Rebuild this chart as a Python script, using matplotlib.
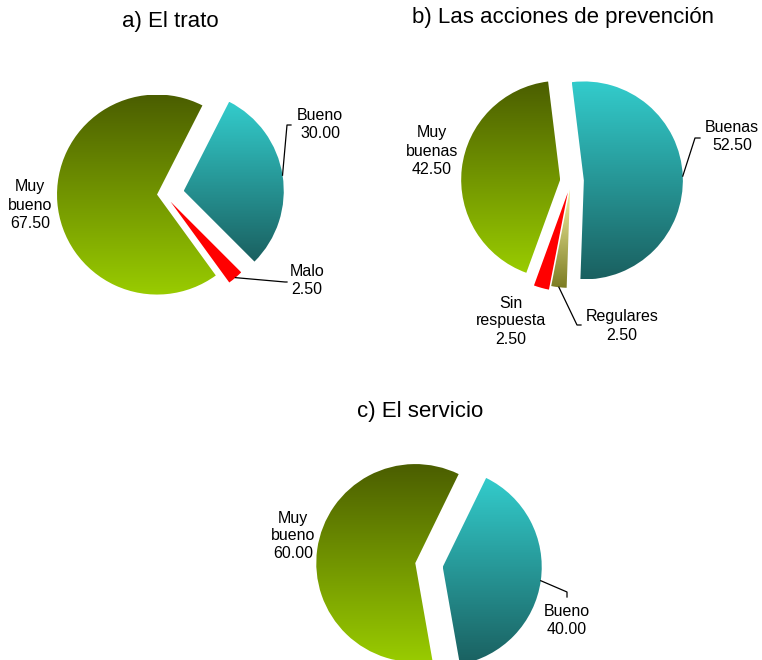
import numpy as np
import matplotlib
matplotlib.use("Agg")
import matplotlib.pyplot as plt
from matplotlib.colors import LinearSegmentedColormap

W, H = 762, 660

# a) El trato
trato_labels = ["Bueno", "Malo", "Muy bueno"]
trato_values = [30.0, 2.5, 67.5]

# b) Las acciones de prevención
prev_labels = ["Buenas", "Regulares", "Sin respuesta", "Muy buenas"]
prev_values = [52.5, 2.5, 2.5, 42.5]

# c) El servicio
serv_labels = ["Bueno", "Muy bueno"]
serv_values = [40.0, 60.0]

# gradient fills, (top, bottom)
GREEN = ("#4b5e00", "#99cc00")
TEAL = ("#33cccc", "#1a6060")
RED = ("#ff0000", "#ff0000")
OLIVE = ("#f6f2a4", "#7c7c22")

plt.rcParams['font.family'] = ['Liberation Sans', 'DejaVu Sans']


def gradient_fill(ax, wedge, top, bottom):
    x0, y0, x1, y1 = wedge.get_path().get_extents().extents
    cmap = LinearSegmentedColormap.from_list("fill", [bottom, top])
    grad = np.linspace(0, 1, 256).reshape(-1, 1)
    im = ax.imshow(grad, cmap=cmap, origin="lower", aspect="auto",
                   extent=(x0, x1, y0, y1), zorder=1, interpolation="bilinear")
    im.set_clip_path(wedge)
    wedge.set_facecolor("none")


def draw_pie(ax, values, center, radius, start, explode, fills):
    # pie() offsets wedges in data units, so scale the fractions by the radius
    cx, cy = center
    wedges, _ = ax.pie(values, center=(cx, H - cy), radius=radius,
                       startangle=start, counterclock=False,
                       explode=[e * radius for e in explode],
                       wedgeprops=dict(linewidth=0), frame=True)
    for w, (top, bottom) in zip(wedges, fills):
        gradient_fill(ax, w, top, bottom)
    return wedges


def rim_point(wedge):
    ang = np.deg2rad((wedge.theta1 + wedge.theta2) / 2)
    x, y = wedge.center
    return x + wedge.r * np.cos(ang), y + wedge.r * np.sin(ang)


def label(ax, name, value, x, y):
    ax.text(x, H - y, name.replace(" ", "\n") + "\n%.2f" % value,
            ha="center", va="center", fontsize=11.5, linespacing=1.25)


def leader(ax, wedge, elbow, end):
    x0, y0 = rim_point(wedge)
    ax.plot([x0, elbow[0], end[0]], [y0, H - elbow[1], H - end[1]],
            color="black", lw=0.9, zorder=3)


fig = plt.figure(figsize=(W / 100, H / 100), dpi=100)
ax = fig.add_axes([0, 0, 1, 1])

# a) El trato
wa = draw_pie(ax, trato_values, (164, 194), 100, 63, [0.2, 0.1, 0.07],
              [TEAL, RED, GREEN])
ax.text(170, H - 22, "a) El trato", ha="center", va="center", fontsize=16)
label(ax, trato_labels[2], trato_values[2], 30, 205)
label(ax, trato_labels[0], trato_values[0], 320, 124)
label(ax, trato_labels[1], trato_values[1], 307, 281)
leader(ax, wa[0], (287, 125), (291, 125))
leader(ax, wa[1], (285, 282), (287, 282))

# b) Las acciones de prevención
wb = draw_pie(ax, prev_values, (571, 181), 99, 97, [0.13, 0.08, 0.12, 0.11],
              [TEAL, OLIVE, RED, GREEN])
ax.text(563, H - 18, "b) Las acciones de prevención", ha="center", va="center",
        fontsize=16)
label(ax, prev_labels[3], prev_values[3], 432, 151)
label(ax, prev_labels[0], prev_values[0], 732, 137)
label(ax, prev_labels[2], prev_values[2], 511, 321)
label(ax, prev_labels[1], prev_values[1], 622, 326)
leader(ax, wb[0], (695, 138), (700, 138))
leader(ax, wb[1], (577, 325), (581, 325))

# c) El servicio
wc = draw_pie(ax, serv_values, (429, 565), 99, 64, [0.14, 0.14],
              [TEAL, GREEN])
ax.text(420, H - 412, "c) El servicio", ha="center", va="center", fontsize=16)
label(ax, serv_labels[1], serv_values[1], 293, 536)
label(ax, serv_labels[0], serv_values[0], 567, 620)
leader(ax, wc[0], (567, 592), (567, 597))

ax.set_xlim(0, W)
ax.set_ylim(0, H)
ax.set_aspect("equal")
ax.axis("off")

fig.savefig("out.png", dpi=100)
